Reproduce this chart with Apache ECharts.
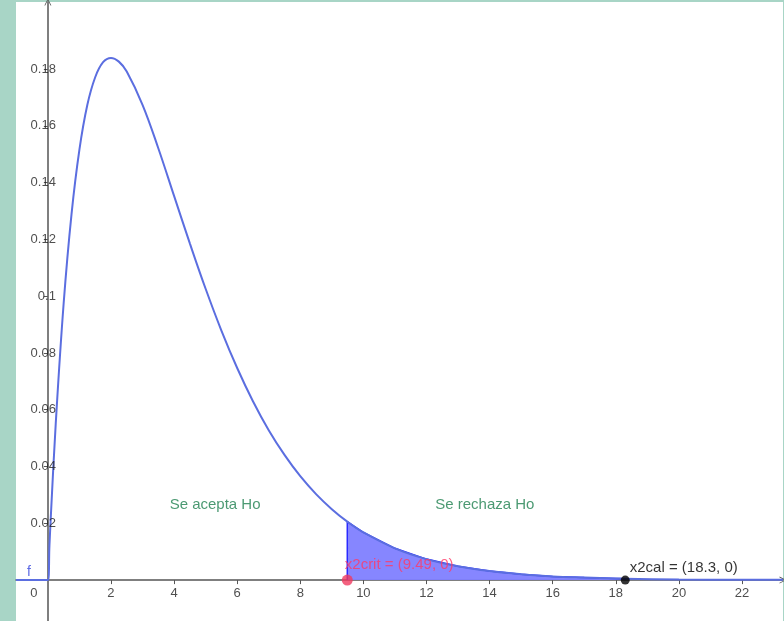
<!DOCTYPE html>
<html>
<head>
<meta charset="utf-8">
<script src="https://cdn.jsdelivr.net/npm/echarts@6/dist/echarts.min.js"></script>
<style>
  html, body { margin: 0; padding: 0; background: #a8d5c6; }
  #main { width: 784px; height: 621px; }
</style>
</head>
<body>
<div id="main"></div>
<script>
// curve points (x, density)
var curveX = [-1.01, 0, 0.05, 0.1, 0.25, 0.5, 0.75, 1, 1.25, 1.5, 1.75, 2, 2.25, 2.5, 3, 3.5, 4, 4.5, 5, 5.5, 6, 6.5, 7, 7.5, 8, 8.5, 9, 9.49, 10, 11, 12, 13, 14, 15, 16, 17, 18, 18.3, 20, 22, 23.3];
var curveY = [0, 0, 0.0122, 0.0238, 0.0552, 0.0974, 0.1289, 0.1516, 0.1673, 0.1771, 0.1824, 0.1839, 0.1826, 0.1791, 0.1674, 0.1521, 0.1353, 0.1186, 0.1026, 0.0879, 0.0747, 0.0630, 0.0528, 0.0441, 0.0366, 0.0303, 0.0250, 0.0206, 0.0168, 0.0112, 0.0074, 0.0049, 0.0032, 0.0021, 0.0013, 0.0009, 0.0006, 0.0005, 0.0002, 0.0001, 0.0001];
var critX = 9.49;
var calX = 18.3;
var xTicks = [2, 4, 6, 8, 10, 12, 14, 16, 18, 20, 22];
var yTicks = [0.02, 0.04, 0.06, 0.08, 0.1, 0.12, 0.14, 0.16, 0.18];
var regionLabels = ['Se acepta Ho', 'Se rechaza Ho'];
var regionX = [5.3, 13.85];
var regionY = 0.0265;

var chart = echarts.init(document.getElementById('main'));

var curveData = curveX.map(function (x, i) { return [x, curveY[i]]; });
var shadeData = [[critX, 0]];
curveX.forEach(function (x, i) {
  if (x >= critX && x <= calX) shadeData.push([x, curveY[i]]);
});
shadeData.push([calX, 0]);

var tickFont = { fontSize: 13, color: '#222', fontFamily: 'Liberation Sans' };
var xLabelData = xTicks.map(function (t) {
  return { value: [t, 0], label: Object.assign({ show: true, formatter: String(t), offset: [0, 13] }, tickFont) };
});
var yLabelData = yTicks.map(function (t) {
  return { value: [0, t], label: Object.assign({ show: true, formatter: String(t), align: 'right', offset: [8, 0] }, tickFont) };
});

var chevron = 'path://M0,10L5,0L10,10L8.8,10L5,2.6L1.2,10Z';

var option = {
  backgroundColor: '#a8d5c6',
  animation: false,
  grid: { left: 16, right: 1, top: 2, bottom: 0, containLabel: false, outerBoundsMode: 'none',
    show: true, backgroundColor: '#fff', borderWidth: 0 },
  xAxis: {
    type: 'value', min: -1.01, max: 23.3,
    splitLine: { show: false },
    axisLine: { onZero: true, lineStyle: { color: '#555', width: 1.5 }, symbol: ['none', chevron], symbolSize: [8, 7] },
    axisTick: { show: true, length: 4, customValues: xTicks, lineStyle: { color: '#555' } },
    axisLabel: { show: false }
  },
  yAxis: {
    type: 'value', min: -0.0144, max: 0.2036,
    splitLine: { show: false },
    axisLine: { onZero: true, lineStyle: { color: '#555', width: 1.5 }, symbol: ['none', chevron], symbolSize: [8, 7] },
    axisTick: { show: true, length: 4, customValues: yTicks, lineStyle: { color: '#555' } },
    axisLabel: { show: false }
  },
  series: [
    {
      type: 'line', data: shadeData, showSymbol: false, z: 2,
      lineStyle: { color: '#2a2aff', width: 1.5 },
      areaStyle: { color: '#7f7fff', opacity: 0.95, origin: 0 }
    },
    {
      type: 'line', data: curveData, showSymbol: false, smooth: 0.4, z: 3,
      lineStyle: { color: '#5b6ee0', width: 2 }
    },
    {
      type: 'scatter', z: 5, symbolSize: 0, silent: true,
      data: xLabelData.concat(yLabelData, [
        { value: [0, 0], label: { show: true, formatter: '0', offset: [-14, 13], color: '#222', fontSize: 13 } },
        { value: [-0.6, 0], label: { show: true, formatter: 'f', offset: [0, -8], color: '#3344dd', fontSize: 14 } },
        { value: [regionX[0], regionY], label: { show: true, formatter: regionLabels[0], color: '#1e7f4f', fontSize: 15 } },
        { value: [regionX[1], regionY], label: { show: true, formatter: regionLabels[1], color: '#1e7f4f', fontSize: 15 } }
      ]),
      label: { position: 'inside', fontFamily: 'Liberation Sans' }
    },
    {
      type: 'scatter', z: 6,
      data: [
        { value: [critX, 0], symbolSize: 11, itemStyle: { color: '#f03a5f' },
          label: { show: true, formatter: 'x2crit = (9.49, 0)', position: [3, -17], color: '#ff3a66',
            fontSize: 15, fontFamily: 'Liberation Sans' } },
        { value: [calX, 0], symbolSize: 9, itemStyle: { color: '#000' },
          label: { show: true, formatter: 'x2cal = (18.3, 0)', position: [9, -15], color: '#000',
            fontSize: 15, fontFamily: 'Liberation Sans' } }
      ]
    }
  ]
};

chart.setOption(option);
</script>
</body>
</html>
